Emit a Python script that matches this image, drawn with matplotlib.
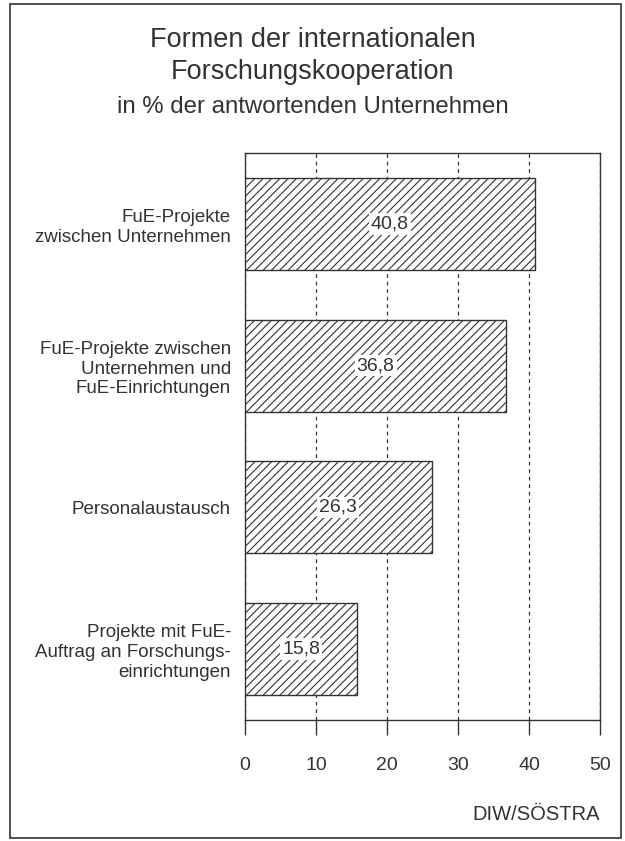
import matplotlib
matplotlib.use("Agg")
import matplotlib.pyplot as plt
from matplotlib.patches import Rectangle

plt.rcParams['font.family'] = ['Liberation Sans', 'DejaVu Sans']
plt.rcParams['hatch.linewidth'] = 0.8
plt.rcParams['hatch.color'] = '#333333'

# data
categories = ["FuE-Projekte\nzwischen Unternehmen",
              "FuE-Projekte zwischen\nUnternehmen und\nFuE-Einrichtungen",
              "Personalaustausch",
              "Projekte mit FuE-\nAuftrag an Forschungs-\neinrichtungen"]
values = [40.8, 36.8, 26.3, 15.8]
value_labels = ["40,8", "36,8", "26,3", "15,8"]
xticks = [0, 10, 20, 30, 40, 50]

ink = '#333333'

fig = plt.figure(figsize=(6.25, 8.41), dpi=100)
ax = fig.add_axes([0.392, 0.1439, 0.568, 0.674])

ypos = list(range(len(categories)))
ax.barh(ypos, values, height=0.65, color='white', edgecolor=ink,
        hatch='////', linewidth=1.0, zorder=3)
for y, v, lab in zip(ypos, values, value_labels):
    ax.text(v / 2, y, lab, ha='center', va='center', fontsize=14, color=ink,
            zorder=4, bbox=dict(facecolor='white', edgecolor='none', pad=1.5))

ax.set_xlim(0, 50)
ax.set_ylim(3.5, -0.5)
ax.set_xticks(xticks)
ax.set_xticklabels([str(t) for t in xticks], fontsize=14, color=ink)
ax.set_yticks(ypos)
ax.set_yticklabels(categories, fontsize=13.5, color=ink, linespacing=1.2)
ax.tick_params(axis='y', length=0, pad=10)
ax.tick_params(axis='x', direction='out', length=11, width=1.0, color=ink, pad=16)
ax.xaxis.grid(True, linestyle=(0, (3, 3)), color=ink, linewidth=0.9)
ax.set_axisbelow(True)
for s in ax.spines.values():
    s.set_color(ink)
    s.set_linewidth(1.0)

fig.text(0.5, 1 - 40 / 841, "Formen der internationalen", ha='center', va='center',
         fontsize=19.5, color=ink)
fig.text(0.5, 1 - 72 / 841, "Forschungskooperation", ha='center', va='center',
         fontsize=19.5, color=ink)
fig.text(0.5, 1 - 107 / 841, "in % der antwortenden Unternehmen", ha='center', va='center',
         fontsize=17.3, color=ink)
fig.text(600 / 625, 1 - 815 / 841, "DIW/SÖSTRA", ha='right', va='center',
         fontsize=14.5, color=ink)

# outer frame
fig.patches.append(Rectangle((10 / 625, 3 / 841), 611 / 625, 834 / 841,
                             transform=fig.transFigure, fill=False,
                             edgecolor=ink, linewidth=1.2))

fig.savefig("out.png", dpi=100, facecolor='white')
